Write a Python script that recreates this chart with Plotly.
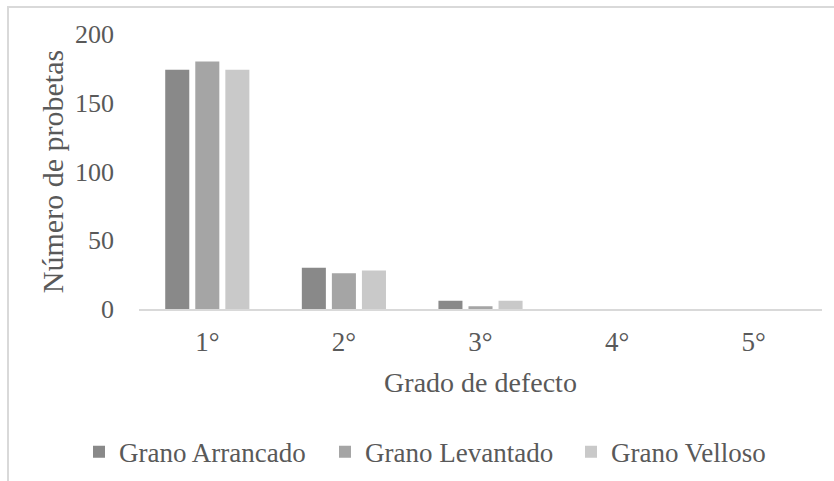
import plotly.graph_objects as go

# Defect grade categories and specimen counts per grain defect type
grados = ["1°", "2°", "3°", "4°", "5°"]
grano_arrancado = [174, 30, 6, 0, 0]
grano_levantado = [180, 26, 2, 0, 0]
grano_velloso = [174, 28, 6, 0, 0]

series = [
    ("Grano Arrancado", grano_arrancado, "#898989"),
    ("Grano Levantado", grano_levantado, "#a5a5a5"),
    ("Grano Velloso", grano_velloso, "#c9c9c9"),
]

FONT = "Liberation Serif, Times New Roman, serif"
TEXT = "#595959"

fig = go.Figure()
for name, vals, color in series:
    fig.add_trace(go.Bar(x=grados, y=vals, name=name, marker_color=color,
                         marker_line_width=0))

W, H = 834, 481
L, R, T, B = 139, 12, 34, 171.5
pw, ph = W - L - R, H - T - B

def px(x):
    return (x - L) / pw

def py(y):
    return (H - B - y) / ph

fig.update_layout(
    width=W, height=H,
    margin=dict(l=L, r=R, t=T, b=B, pad=0, autoexpand=False),
    paper_bgcolor="white", plot_bgcolor="white",
    font=dict(family=FONT, size=26, color=TEXT),
    barmode="group", bargap=0.34, bargroupgap=0.2,
    showlegend=True,
    legend=dict(orientation="h", x=px(79), xanchor="left",
                y=py(453), yanchor="middle",
                font=dict(family=FONT, size=27, color=TEXT),
                entrywidth=201, entrywidthmode="pixels",
                bgcolor="rgba(0,0,0,0)", borderwidth=0),
    xaxis=dict(showline=True, linecolor="#d9d9d9", linewidth=2,
               showgrid=False, ticks="", ticklabelstandoff=8,
               automargin=False,
               tickfont=dict(family=FONT, size=27, color=TEXT),
               title=dict(text="Grado de defecto", standoff=16,
                          font=dict(family=FONT, size=28, color=TEXT))),
    yaxis=dict(range=[0, 200], dtick=50, showline=False, showgrid=False,
               zeroline=False, ticks="", ticklabelstandoff=24,
               automargin=False,
               tickfont=dict(family=FONT, size=26, color=TEXT),
               title=dict(text="Número de probetas", standoff=2,
                          font=dict(family=FONT, size=30, color=TEXT))),
)

# Chart-area frame
fig.add_shape(type="rect", xref="paper", yref="paper",
              x0=px(8), x1=px(900), y0=py(600), y1=py(7),
              line=dict(color="#d9d9d9", width=2), fillcolor="rgba(0,0,0,0)",
              layer="below")

fig.write_html("out.html")
